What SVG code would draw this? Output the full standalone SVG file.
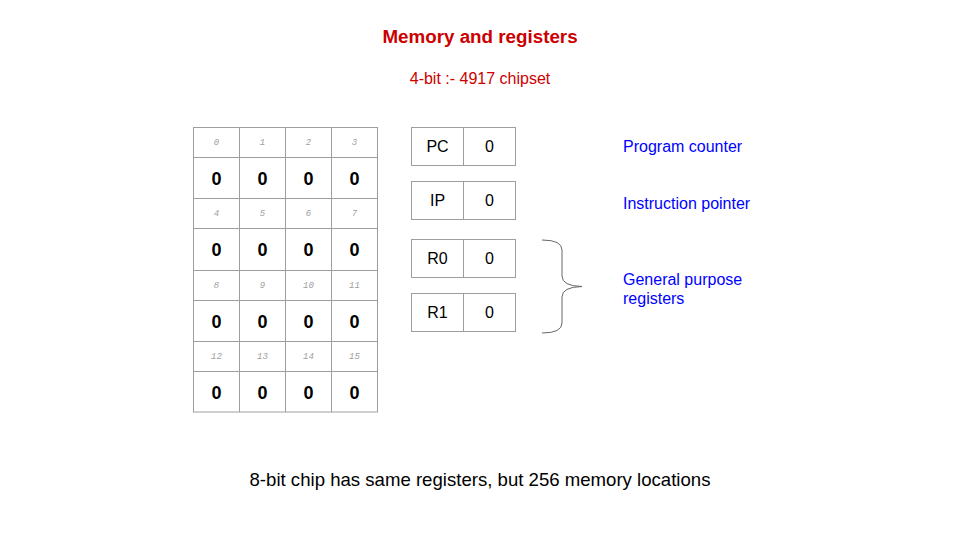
<svg xmlns="http://www.w3.org/2000/svg" width="960" height="540" viewBox="0 0 960 540">
<style>
.t{font-family:"Liberation Sans",Arial,sans-serif}
.title{font-size:18.8px;font-weight:bold;fill:#cc0000}
.sub{font-size:16px;fill:#cc0000}
.lbl{font-size:16px;fill:#0000ff}
.foot{font-size:18.6px;fill:#000}
.idx{font-family:"Liberation Mono","Courier New",monospace;font-style:italic;font-size:9px;fill:#a0a0a0}
.val{font-size:18px;font-weight:bold;fill:#000}
.reg{font-size:16px;fill:#000}
.cell{fill:#fff;stroke:#9e9e9e;stroke-width:1}
.ln{stroke:#9e9e9e;stroke-width:1;fill:none}
</style>
<rect width="960" height="540" fill="#fff"/>
<text class="t title" x="480" y="43" text-anchor="middle">Memory and registers</text>
<text class="t sub" x="480" y="84" text-anchor="middle">4-bit :- 4917 chipset</text>

<g id="memory">
<rect class="cell" x="193.5" y="127.5" width="184" height="284.5"/>
<path class="ln" d="M239.5 127.5V412M285.5 127.5V412M331.5 127.5V412M193.5 157.5H377.5M193.5 198.5H377.5M193.5 228.5H377.5M193.5 270.5H377.5M193.5 300.5H377.5M193.5 341.5H377.5M193.5 371.5H377.5"/>
<g text-anchor="middle">
<text class="idx" x="216.5" y="145">0</text><text class="idx" x="262.5" y="145">1</text><text class="idx" x="308.5" y="145">2</text><text class="idx" x="354.5" y="145">3</text>
<text class="t val" x="216.5" y="185">0</text><text class="t val" x="262.5" y="185">0</text><text class="t val" x="308.5" y="185">0</text><text class="t val" x="354.5" y="185">0</text>
<text class="idx" x="216.5" y="216">4</text><text class="idx" x="262.5" y="216">5</text><text class="idx" x="308.5" y="216">6</text><text class="idx" x="354.5" y="216">7</text>
<text class="t val" x="216.5" y="256">0</text><text class="t val" x="262.5" y="256">0</text><text class="t val" x="308.5" y="256">0</text><text class="t val" x="354.5" y="256">0</text>
<text class="idx" x="216.5" y="288">8</text><text class="idx" x="262.5" y="288">9</text><text class="idx" x="308.5" y="288">10</text><text class="idx" x="354.5" y="288">11</text>
<text class="t val" x="216.5" y="328">0</text><text class="t val" x="262.5" y="328">0</text><text class="t val" x="308.5" y="328">0</text><text class="t val" x="354.5" y="328">0</text>
<text class="idx" x="216.5" y="359">12</text><text class="idx" x="262.5" y="359">13</text><text class="idx" x="308.5" y="359">14</text><text class="idx" x="354.5" y="359">15</text>
<text class="t val" x="216.5" y="399">0</text><text class="t val" x="262.5" y="399">0</text><text class="t val" x="308.5" y="399">0</text><text class="t val" x="354.5" y="399">0</text>
</g>
</g>

<g id="reg-pc">
<rect class="cell" x="411.5" y="127.5" width="104" height="38"/>
<path class="ln" d="M463.5 127.5V165.5"/>
<text class="t reg" x="437.5" y="152" text-anchor="middle">PC</text>
<text class="t reg" x="489.5" y="152" text-anchor="middle">0</text>
</g>
<g id="reg-ip">
<rect class="cell" x="411.5" y="181.5" width="104" height="38"/>
<path class="ln" d="M463.5 181.5V219.5"/>
<text class="t reg" x="437.5" y="206" text-anchor="middle">IP</text>
<text class="t reg" x="489.5" y="206" text-anchor="middle">0</text>
</g>
<g id="reg-r0">
<rect class="cell" x="411.5" y="239.5" width="104" height="38"/>
<path class="ln" d="M463.5 239.5V277.5"/>
<text class="t reg" x="437.5" y="264" text-anchor="middle">R0</text>
<text class="t reg" x="489.5" y="264" text-anchor="middle">0</text>
</g>
<g id="reg-r1">
<rect class="cell" x="411.5" y="293.5" width="104" height="38"/>
<path class="ln" d="M463.5 293.5V331.5"/>
<text class="t reg" x="437.5" y="318" text-anchor="middle">R1</text>
<text class="t reg" x="489.5" y="318" text-anchor="middle">0</text>
</g>

<g id="brace">
<path d="M542 240 Q562 240 562 250 V276 Q562 286 582 286.5 Q562 287 562 297 V323 Q562 333 542 333" fill="none" stroke="#666" stroke-width="1"/>
</g>

<text class="t lbl" x="623" y="152">Program counter</text>
<text class="t lbl" x="623" y="209">Instruction pointer</text>
<text class="t lbl" x="623" y="285">General purpose</text>
<text class="t lbl" x="623" y="304">registers</text>

<text class="t foot" x="480" y="486" text-anchor="middle">8-bit chip has same registers, but 256 memory locations</text>
</svg>
